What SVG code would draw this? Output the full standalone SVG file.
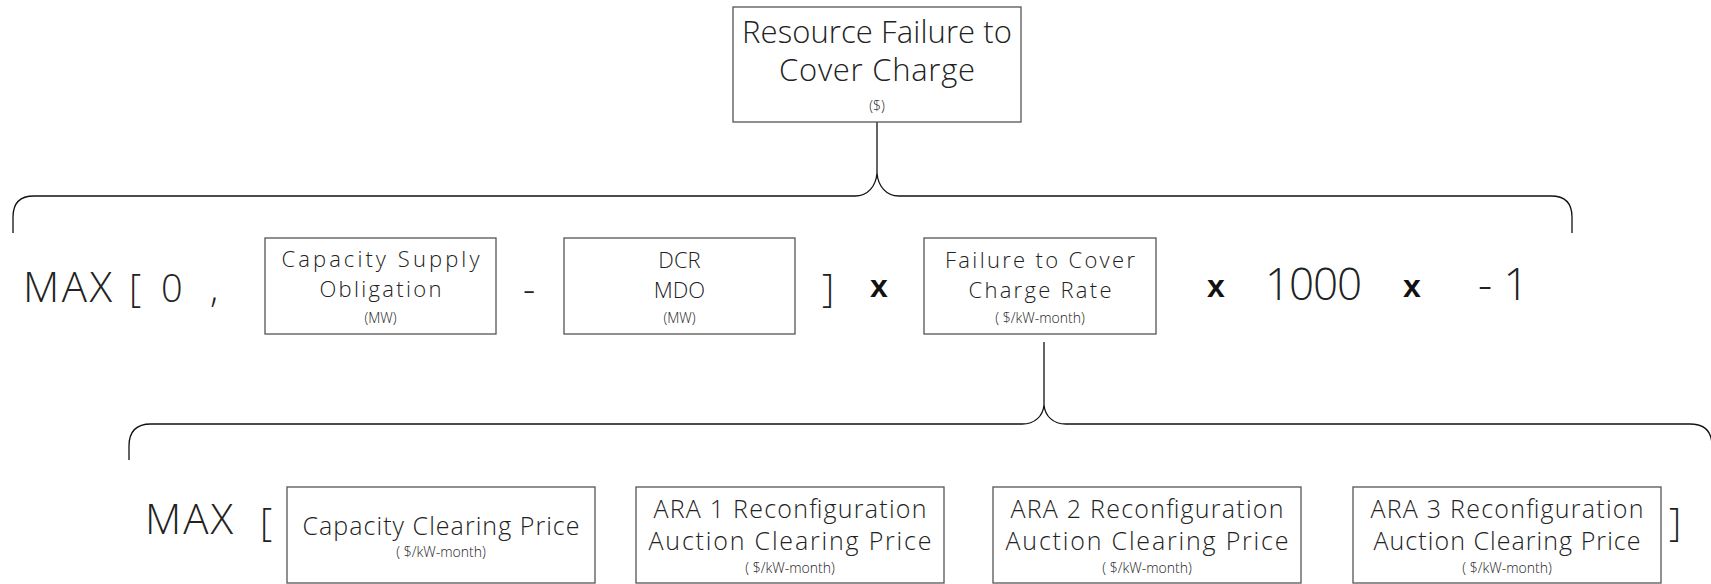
<svg xmlns="http://www.w3.org/2000/svg" width="1711" height="584" viewBox="0 0 1711 584">
<style>
.bg{fill:#ffffff}
.box{fill:#ffffff;stroke:#555555;stroke-width:1.3}
.conn{fill:none;stroke:#111111;stroke-width:1.3}
.t{font-family:"Open Sans","Liberation Sans",sans-serif;font-weight:300;fill:#222222}
.big{font-size:38px}
.lbl{font-size:22px;text-anchor:middle}
.lbl2{font-size:25px;text-anchor:middle}
.unit{font-size:14px;text-anchor:middle}
.op{font-family:"Liberation Sans",Arial,sans-serif;font-weight:bold;font-size:32px;fill:#111111}
</style>
<rect class="bg" x="0" y="0" width="1711" height="584"/>
<g id="connectors">
<path class="conn" d="M877,122 L877,173"/>
<path class="conn" d="M13,233 L13,217 Q13,196 34,196 L855,196 C868,196 876,186 877,173 C878,186 886,196 899,196 L1551,196 Q1572,196 1572,217 L1572,233"/>
<path class="conn" d="M1044,342 L1044,405"/>
<path class="conn" d="M129,460 L129,446 Q129,424 151,424 L1022,424 C1035,424 1043,416 1044,405 C1045,416 1053,424 1066,424 L1690,424 Q1712,424 1712,446"/>
</g>
<g id="node-total">
<rect class="box" x="733" y="7" width="288" height="115"/>
<text class="t" x="877" y="43" font-size="31" text-anchor="middle" textLength="270">Resource Failure to</text>
<text class="t" x="877" y="81" font-size="31" text-anchor="middle" textLength="196">Cover Charge</text>
<text class="t unit" x="877" y="111">($)</text>
</g>
<g id="row1-operators">
<text class="t" x="23" y="302" font-size="42" textLength="89">MAX</text>
<text class="t big" x="129" y="302">[</text>
<text class="t big" x="161" y="302">0</text>
<text class="t big" x="210" y="302">,</text>
<text class="t big" x="523" y="303">-</text>
<text class="t big" x="822" y="302">]</text>
<text class="op" x="870" y="297">x</text>
<text class="op" x="1207" y="297">x</text>
<text class="t" x="1265" y="300" font-size="44" textLength="97">1000</text>
<text class="op" x="1403" y="297">x</text>
<text class="t" x="1478" y="300" font-size="44">- 1</text>
</g>
<g id="node-cso">
<rect class="box" x="265" y="238" width="231" height="96"/>
<text class="t lbl" x="380.5" y="267" textLength="198">Capacity Supply</text>
<text class="t lbl" x="380.5" y="297" textLength="122">Obligation</text>
<text class="t unit" x="380.5" y="323">(MW)</text>
</g>
<g id="node-dcr">
<rect class="box" x="564" y="238" width="231" height="96"/>
<text class="t lbl" x="679.5" y="268">DCR</text>
<text class="t lbl" x="679.5" y="298">MDO</text>
<text class="t unit" x="679.5" y="323">(MW)</text>
</g>
<g id="node-fccr">
<rect class="box" x="924" y="238" width="232" height="96"/>
<text class="t lbl" x="1040" y="268" textLength="190">Failure to Cover</text>
<text class="t lbl" x="1040" y="298" textLength="143">Charge Rate</text>
<text class="t unit" x="1040" y="323">( $/kW-month)</text>
</g>
<g id="row2-operators">
<text class="t" x="145" y="534" font-size="42" textLength="88">MAX</text>
<text class="t big" x="260" y="536">[</text>
<text class="t big" x="1669" y="536">]</text>
</g>
<g id="node-ccp">
<rect class="box" x="287" y="487" width="308" height="96"/>
<text class="t lbl2" x="441" y="535" textLength="277">Capacity Clearing Price</text>
<text class="t unit" x="441" y="557" font-size="15">( $/kW-month)</text>
</g>
<g id="node-ara1">
<rect class="box" x="636" y="487" width="308" height="96"/>
<text class="t lbl2" x="790" y="518" textLength="273">ARA 1 Reconfiguration</text>
<text class="t lbl2" x="790" y="550" textLength="283">Auction Clearing Price</text>
<text class="t unit" x="790" y="573" font-size="15">( $/kW-month)</text>
</g>
<g id="node-ara2">
<rect class="box" x="993" y="487" width="308" height="96"/>
<text class="t lbl2" x="1147" y="518" textLength="273">ARA 2 Reconfiguration</text>
<text class="t lbl2" x="1147" y="550" textLength="283">Auction Clearing Price</text>
<text class="t unit" x="1147" y="573" font-size="15">( $/kW-month)</text>
</g>
<g id="node-ara3">
<rect class="box" x="1353" y="487" width="308" height="96"/>
<text class="t lbl2" x="1507" y="518" textLength="273">ARA 3 Reconfiguration</text>
<text class="t lbl2" x="1507" y="550" textLength="267">Auction Clearing Price</text>
<text class="t unit" x="1507" y="573" font-size="15">( $/kW-month)</text>
</g>
</svg>
